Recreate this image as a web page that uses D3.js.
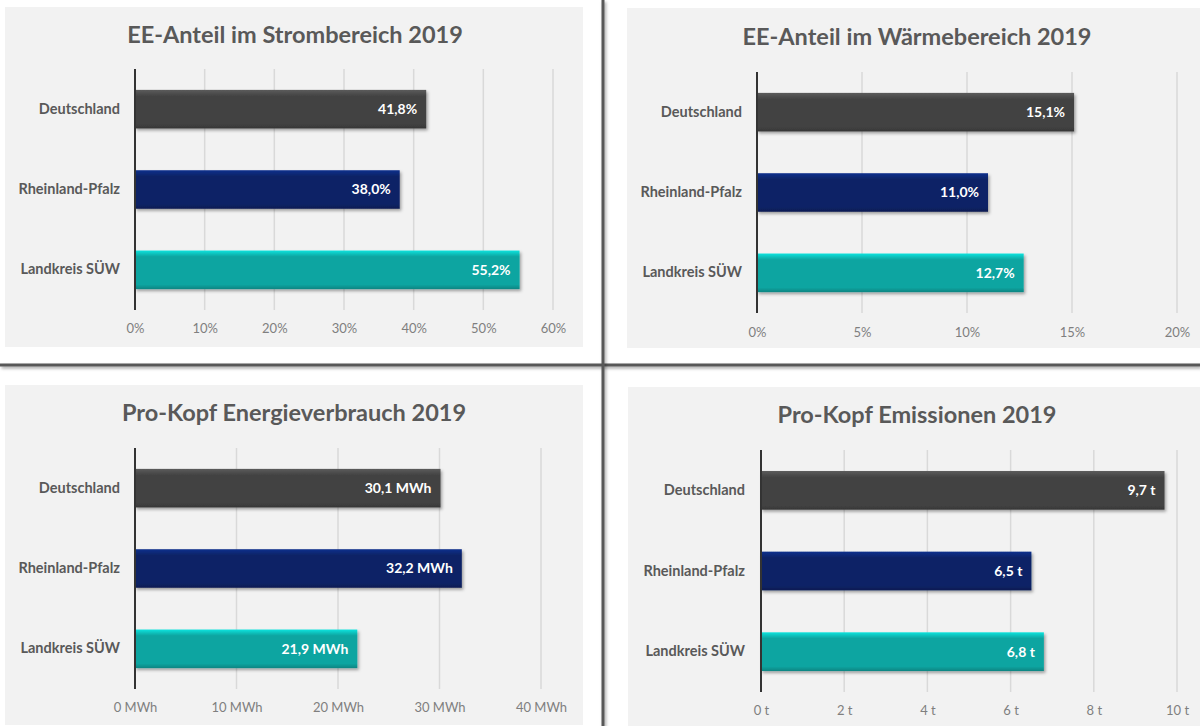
<!DOCTYPE html>
<html>
<head>
<meta charset="utf-8">
<script src="https://cdn.jsdelivr.net/npm/d3@7"></script>
<style>
  body { margin: 0; background: #fff; }
  text { font-family: Lato, "Open Sans", sans-serif; }
</style>
</head>
<body>
<script>
// categories shared by all four charts
const regions = ["Deutschland", "Rheinland-Pfalz", "Landkreis SÜW"];
const barColors = ["#434343", "#0b2366", "#0aa5a1"];

// values
const stromValues = [0.418, 0.380, 0.552];
const waermeValues = [0.151, 0.110, 0.127];
const energieValues = [30.1, 32.2, 21.9];
const emissionValues = [9.7, 6.5, 6.8];

// tick labels
const stromTicks = [0, 0.1, 0.2, 0.3, 0.4, 0.5, 0.6];
const waermeTicks = [0, 0.05, 0.1, 0.15, 0.2];
const energieTicks = [0, 10, 20, 30, 40];
const emissionTicks = [0, 2, 4, 6, 8, 10];

const width = 1200;
const height = 726;

const svg = d3.select("body").append("svg")
    .attr("width", width)
    .attr("height", height);

const defs = svg.append("defs");

// soft shadow for bars and divider lines
const shadow = defs.append("filter")
    .attr("id", "shadow")
    .attr("filterUnits", "userSpaceOnUse")
    .attr("x", 0).attr("y", 0)
    .attr("width", width).attr("height", height);
shadow.append("feDropShadow")
    .attr("dx", 1.5).attr("dy", 2)
    .attr("stdDeviation", 1.5)
    .attr("flood-color", "#000")
    .attr("flood-opacity", 0.35);

// bevel gradient for each bar colour
barColors.forEach((c, i) => {
    const base = d3.color(c);
    const g = defs.append("linearGradient")
        .attr("id", "bevel" + i)
        .attr("x1", 0).attr("y1", 0).attr("x2", 0).attr("y2", 1);
    g.append("stop").attr("offset", "0%").attr("stop-color", base.brighter(0.9));
    g.append("stop").attr("offset", "10%").attr("stop-color", base.brighter(0.35));
    g.append("stop").attr("offset", "16%").attr("stop-color", base);
    g.append("stop").attr("offset", "88%").attr("stop-color", base);
    g.append("stop").attr("offset", "100%").attr("stop-color", base.darker(0.6));
});

// one chart panel
function drawPanel(p) {
    const g = svg.append("g");

    g.append("rect")
        .attr("x", p.box[0]).attr("y", p.box[1])
        .attr("width", p.box[2] - p.box[0])
        .attr("height", p.box[3] - p.box[1])
        .attr("fill", "#f2f2f2");

    g.append("text")
        .attr("x", p.titleX).attr("y", p.titleY)
        .attr("text-anchor", "middle")
        .attr("font-size", 23.5)
        .attr("font-weight", "bold")
        .attr("fill", "#595959")
        .text(p.title);

    const x = d3.scaleLinear()
        .domain([p.ticks[0], p.ticks[p.ticks.length - 1]])
        .range([p.x0, p.x1]);

    const y = d3.scaleBand()
        .domain(regions)
        .range([p.y0, p.y1])
        .paddingInner(0.52)
        .paddingOuter(0.26);

    // gridlines
    g.append("g").selectAll("line")
        .data(p.ticks.slice(1))
        .join("line")
        .attr("x1", d => x(d)).attr("x2", d => x(d))
        .attr("y1", p.y0).attr("y2", p.y1)
        .attr("stroke", "#d9d9d9")
        .attr("stroke-width", 1.5);

    // x tick labels
    const xAxis = d3.axisBottom(x)
        .tickValues(p.ticks)
        .tickFormat(p.tickFormat)
        .tickSize(0)
        .tickPadding(0);
    const ax = g.append("g")
        .attr("transform", `translate(0,${p.tickY})`)
        .call(xAxis);
    ax.select(".domain").remove();
    ax.selectAll("text")
        .attr("dy", "0.35em")
        .attr("font-size", 13)
        .attr("font-family", "Lato, sans-serif")
        .attr("fill", "#7f7f7f");

    // category labels
    const yAxis = d3.axisLeft(y).tickSize(0).tickPadding(0);
    const ay = g.append("g")
        .attr("transform", `translate(${p.labelX},0)`)
        .call(yAxis);
    ay.select(".domain").remove();
    ay.selectAll("text")
        .attr("font-size", 14.5)
        .attr("font-weight", "bold")
        .attr("font-family", "Lato, sans-serif")
        .attr("fill", "#595959");

    // bars
    g.append("g").selectAll("rect")
        .data(p.values)
        .join("rect")
        .attr("x", x(0))
        .attr("y", (d, i) => y(regions[i]))
        .attr("width", d => x(d) - x(0))
        .attr("height", y.bandwidth())
        .attr("fill", (d, i) => `url(#bevel${i})`)
        .attr("filter", "url(#shadow)");

    // value labels inside bars
    g.append("g").selectAll("text")
        .data(p.values)
        .join("text")
        .attr("x", d => x(d) - 9)
        .attr("y", (d, i) => y(regions[i]) + y.bandwidth() / 2)
        .attr("dy", "0.35em")
        .attr("text-anchor", "end")
        .attr("font-size", 14)
        .attr("font-weight", "bold")
        .attr("fill", "#fff")
        .text(p.valueFormat);

    // vertical axis line
    g.append("line")
        .attr("x1", x(0)).attr("x2", x(0))
        .attr("y1", p.y0).attr("y2", p.y1)
        .attr("stroke", "#333")
        .attr("stroke-width", 2);
}

const comma = (v, digits) => v.toFixed(digits).replace(".", ",");

drawPanel({
    box: [5, 7, 583, 347],
    title: "EE-Anteil im Strombereich 2019",
    titleX: 295, titleY: 43,
    values: stromValues, ticks: stromTicks,
    x0: 135, x1: 553, y0: 69, y1: 310,
    labelX: 120, tickY: 328,
    tickFormat: d => Math.round(d * 100) + "%",
    valueFormat: d => comma(d * 100, 1) + "%"
});

drawPanel({
    box: [627, 8, 1200, 348],
    title: "EE-Anteil im Wärmebereich 2019",
    titleX: 917, titleY: 45,
    values: waermeValues, ticks: waermeTicks,
    x0: 757, x1: 1177, y0: 72, y1: 313,
    labelX: 742, tickY: 332,
    tickFormat: d => Math.round(d * 100) + "%",
    valueFormat: d => comma(d * 100, 1) + "%"
});

drawPanel({
    box: [5, 385, 583, 725],
    title: "Pro-Kopf Energieverbrauch 2019",
    titleX: 294, titleY: 421,
    values: energieValues, ticks: energieTicks,
    x0: 135, x1: 541, y0: 448, y1: 689,
    labelX: 120, tickY: 707,
    tickFormat: d => d + " MWh",
    valueFormat: d => comma(d, 1) + " MWh"
});

drawPanel({
    box: [628, 387, 1200, 726],
    title: "Pro-Kopf Emissionen 2019",
    titleX: 917, titleY: 423,
    values: emissionValues, ticks: emissionTicks,
    x0: 761, x1: 1177, y0: 450, y1: 692,
    labelX: 745, tickY: 710,
    tickFormat: d => d + " t",
    valueFormat: d => comma(d, 1) + " t"
});

// divider cross between the four charts
svg.append("rect")
    .attr("x", 0).attr("y", 363.5)
    .attr("width", width).attr("height", 3)
    .attr("fill", "#595959")
    .attr("filter", "url(#shadow)");
svg.append("rect")
    .attr("x", 601.5).attr("y", 0)
    .attr("width", 3).attr("height", height)
    .attr("fill", "#595959")
    .attr("filter", "url(#shadow)");
</script>
</body>
</html>
